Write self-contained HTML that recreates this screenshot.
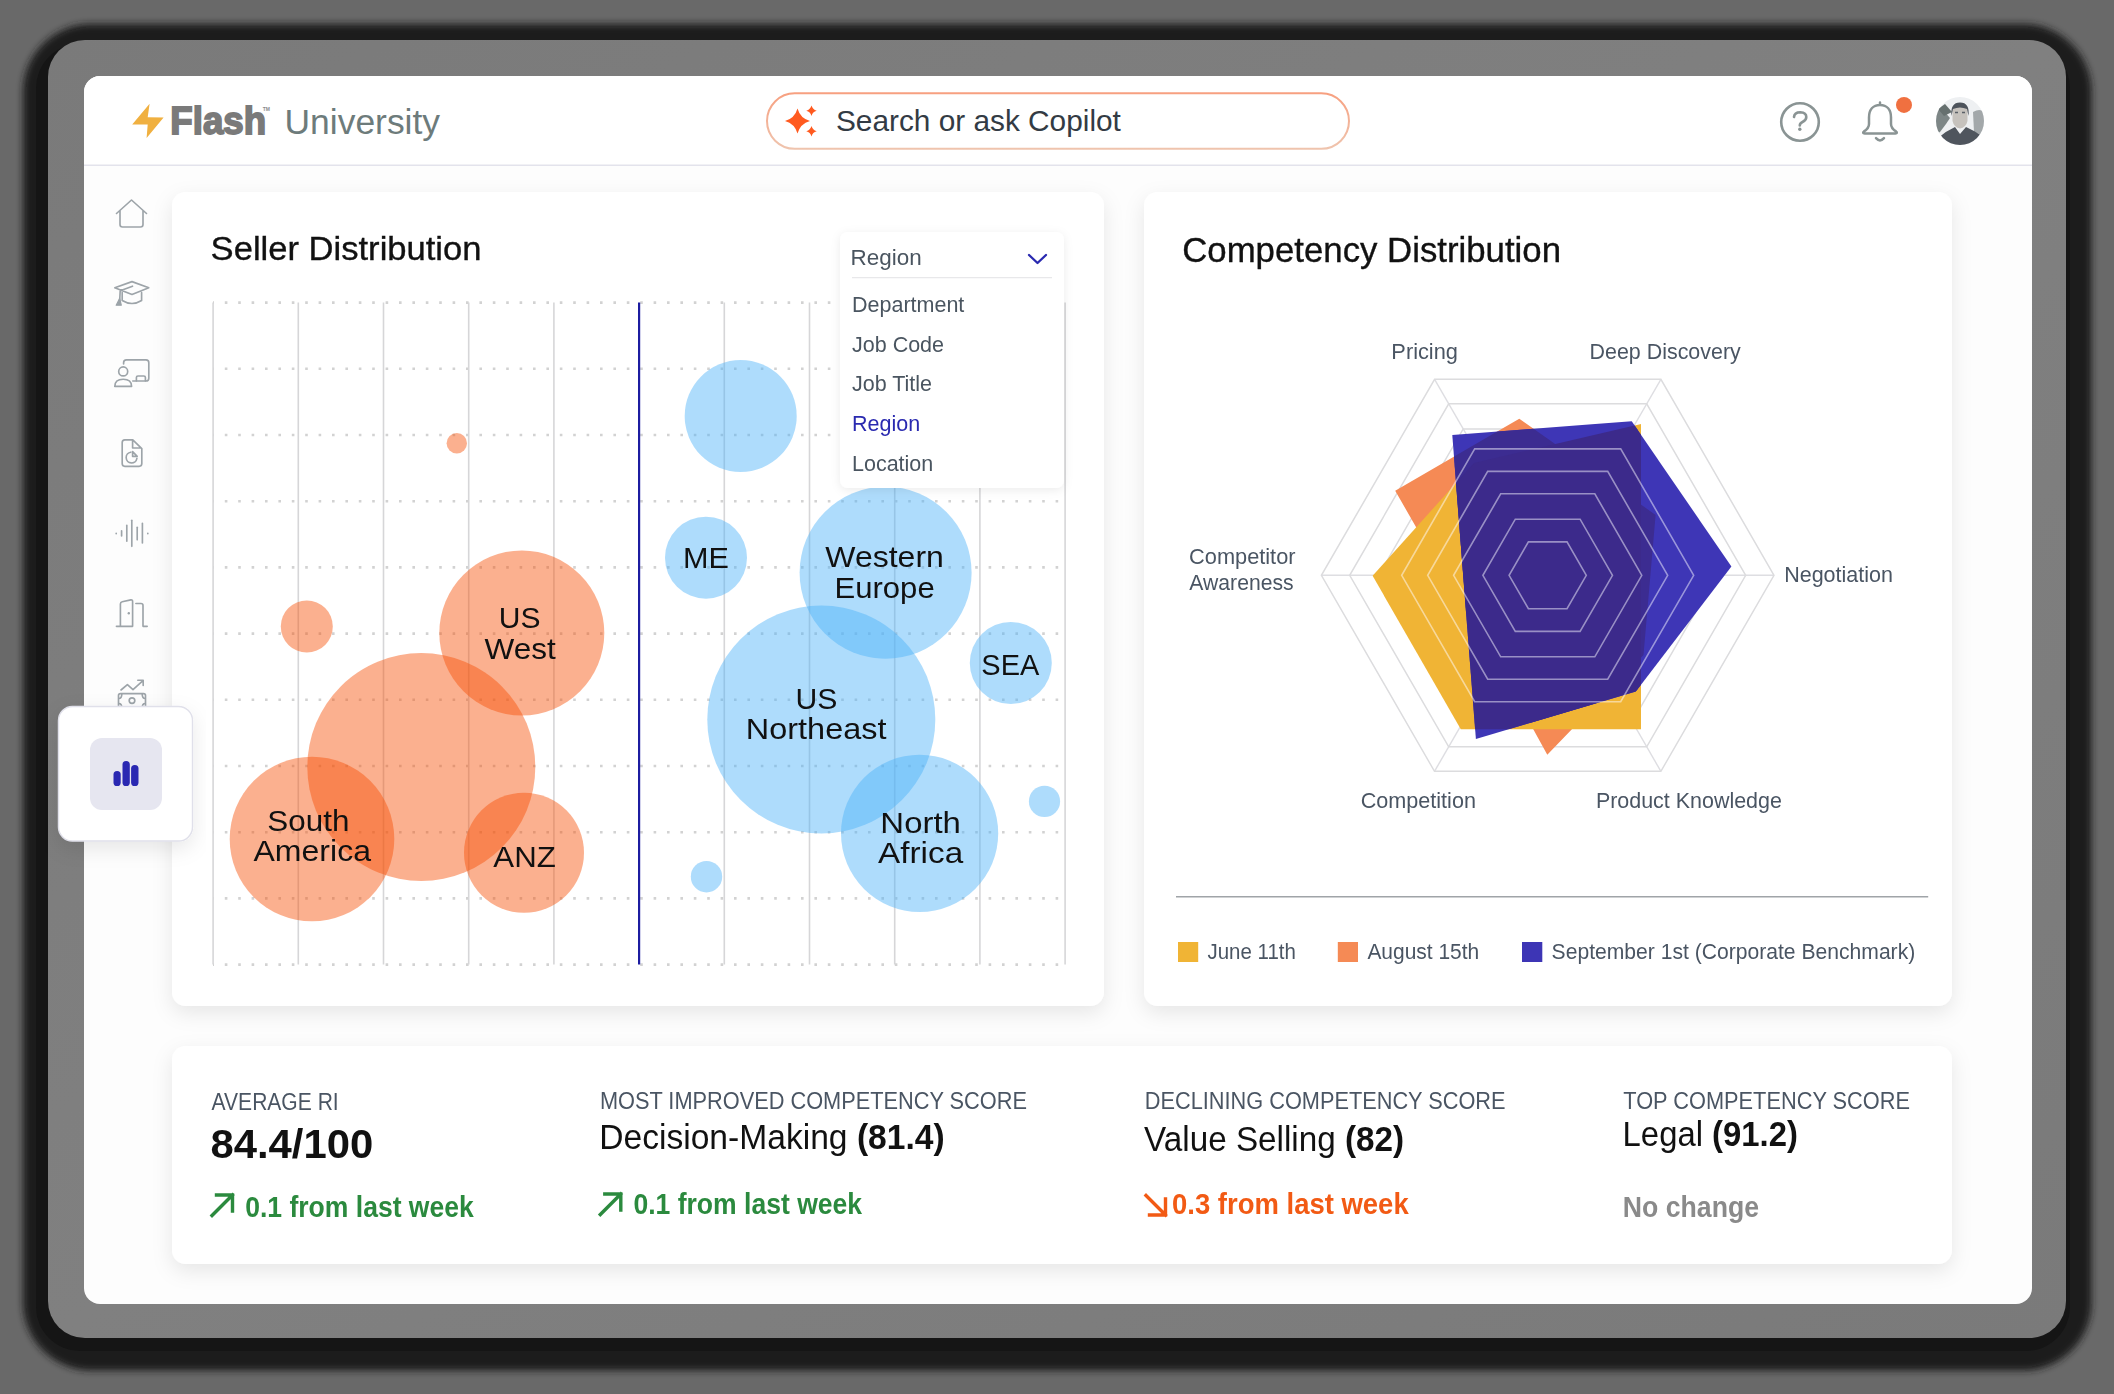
<!DOCTYPE html>
<html><head><meta charset="utf-8"><title>Flash University</title>
<style>html,body{margin:0;padding:0;width:2114px;height:1394px;overflow:hidden;background:#696969}svg{display:block}text{font-family:"Liberation Sans", sans-serif}</style>
</head><body>
<svg width="2114" height="1394" viewBox="0 0 2114 1394">
<defs>
<filter id="blur3" x="-5%" y="-5%" width="110%" height="110%"><feGaussianBlur stdDeviation="3.6"/></filter>
<filter id="shadow" x="-10%" y="-10%" width="120%" height="130%"><feDropShadow dx="0" dy="7" stdDeviation="10" flood-color="#000" flood-opacity="0.09"/></filter>
<filter id="shadow2" x="-20%" y="-20%" width="140%" height="140%"><feDropShadow dx="0" dy="2" stdDeviation="5" flood-color="#000" flood-opacity="0.08"/></filter>
<linearGradient id="bezel" x1="0" y1="0" x2="1" y2="1"><stop offset="0" stop-color="#7a7a7a"/><stop offset="0.5" stop-color="#808080"/><stop offset="1" stop-color="#7a7a7a"/></linearGradient>
<clipPath id="screen"><rect x="84" y="76" width="1948" height="1228" rx="16"/></clipPath>
</defs>
<rect x="0" y="0" width="2114" height="1394" fill="#696969"/>
<rect x="23" y="24" width="2068.5" height="1346.5" rx="68" fill="#1f1f1f" filter="url(#blur3)"/>
<rect x="36" y="44" width="2034" height="1307" rx="44" fill="#151515"/>
<rect x="48" y="40" width="2018" height="1298" rx="37" fill="url(#bezel)"/>
<rect x="84" y="76" width="1948" height="1228" rx="16" fill="#fdfdfd"/>
<g clip-path="url(#screen)">
<rect x="84" y="76" width="1948" height="89" fill="#fff"/>
<line x1="84" y1="165.2" x2="2032" y2="165.2" stroke="#e3e3ec" stroke-width="1.6"/>
<polygon points="149.6,103.7 147.7,117.3 163.6,117.5 146.6,138 147.7,124.5 132.2,124.5" fill="#f0b040"/>
<text x="170.31" y="134" font-size="38.5" fill="#7a7a7a" font-weight="bold" text-anchor="start" textLength="95.85" lengthAdjust="spacingAndGlyphs" stroke="#7a7a7a" stroke-width="1.8">Flash</text>
<text x="262.8" y="111.4" font-size="5" fill="#8a8a8a" font-weight="bold" text-anchor="start" >TM</text>
<text x="284.51" y="134" font-size="35.5" fill="#6d7b7b" font-weight="normal" text-anchor="start" textLength="155.55" lengthAdjust="spacingAndGlyphs" >University</text>
<defs><linearGradient id="sb" x1="0" y1="0" x2="0" y2="1"><stop offset="0" stop-color="#f7a080"/><stop offset="1" stop-color="#efc4ae"/></linearGradient></defs>
<rect x="767" y="93.3" width="582" height="55.5" rx="27.75" fill="#fff" stroke="url(#sb)" stroke-width="2"/>
<path d="M797.5,108.5 Q800.25,118.25 810.0,121 Q800.25,123.75 797.5,133.5 Q794.75,123.75 785.0,121 Q794.75,118.25 797.5,108.5Z" fill="#ff5a1f"/>
<path d="M811.5,105.6 Q812.644,109.65599999999999 816.7,110.8 Q812.644,111.944 811.5,116.0 Q810.356,111.944 806.3,110.8 Q810.356,109.65599999999999 811.5,105.6Z" fill="#ff5a1f"/>
<path d="M811.5,125.99999999999999 Q812.644,130.05599999999998 816.7,131.2 Q812.644,132.344 811.5,136.39999999999998 Q810.356,132.344 806.3,131.2 Q810.356,130.05599999999998 811.5,125.99999999999999Z" fill="#ff5a1f"/>
<text x="835.93" y="131.3" font-size="29.5" fill="#333b44" font-weight="normal" text-anchor="start" textLength="284.95" lengthAdjust="spacingAndGlyphs" >Search or ask Copilot</text>
<circle cx="1800" cy="122" r="18.8" fill="none" stroke="#8a9494" stroke-width="2.6"/>
<path d="M1794,117 Q1794.5,112.2 1800.3,112.2 Q1806.3,112.4 1806.3,117 Q1806.3,120.3 1802.5,122 Q1799.8,123.3 1799.8,125.5" fill="none" stroke="#8a9494" stroke-width="2.6" stroke-linecap="round"/>
<circle cx="1799.8" cy="129.3" r="1.7" fill="#8a9494"/>
<path d="M1880,102.6 L1880,105 M1880,105 C1873,105 1869,110 1869,117.5 L1869,124 C1869,127.5 1866.5,129.8 1864,131.4 C1862.6,132.4 1863,133.4 1864.6,133.4 L1895.4,133.4 C1897,133.4 1897.4,132.4 1896,131.4 C1893.5,129.8 1891,127.5 1891,124 L1891,117.5 C1891,110 1887,105 1880,105 Z" fill="none" stroke="#8a9494" stroke-width="2.5" stroke-linejoin="round" stroke-linecap="round"/>
<path d="M1876,138.2 Q1880,142.6 1884,138.2" fill="none" stroke="#8a9494" stroke-width="2.5" stroke-linecap="round"/>
<circle cx="1904" cy="104.9" r="8" fill="#f07040"/>
<defs><clipPath id="av"><circle cx="1960" cy="121" r="24"/></clipPath></defs>
<g clip-path="url(#av)"><rect x="1936" y="97" width="48" height="48" fill="#eef0f2"/><path d="M1936,106 L1943,110 L1950,118 L1946,124 L1940,132 L1936,134Z" fill="#7d8686"/><path d="M1938,109 L1945,104 L1952,112 L1944,116Z" fill="#66706f"/><path d="M1973,112 Q1980,108 1984,112 L1984,136 L1974,132Z" fill="#a3a8aa"/><path d="M1952.5,110 Q1952.5,104.5 1960,104.5 Q1967.5,104.5 1967.5,110 L1967.5,121 Q1966,127.5 1960,128.5 Q1954,127.5 1952.5,121Z" fill="#c6c2bd"/><path d="M1951.5,116 Q1950,102.5 1960,102.5 Q1970,102.5 1968.5,116 L1967,109 Q1960,106 1953,109Z" fill="#4d535b"/><path d="M1955,112.5 L1958,112.5 M1962,112.5 L1965,112.5" stroke="#5a6068" stroke-width="1.4"/><path d="M1936,145 L1938,138 Q1946,131 1955,127 L1960,134 L1966,127 Q1975,131 1982,136 L1984,145Z" fill="#4f555d"/></g>
<path d="M116.5,213.5 L131.5,200 L146.5,213.5 M120,210.5 L120,224.5 Q120,227 122.5,227 L140.5,227 Q143,227 143,224.5 L143,210.5" fill="none" stroke="#9da4a9" stroke-width="1.65" stroke-linecap="round" stroke-linejoin="round"/>
<path d="M114.8,287.7 L132,281.6 L148.8,287.7 L132,294.4 Z M122.2,292.5 L122.2,300.5 Q132,306.5 141.6,300.5 L141.6,292.5 M132.5,286.2 L120.2,290.8 L119.6,302" fill="none" stroke="#9da4a9" stroke-width="1.65" stroke-linecap="round" stroke-linejoin="round"/>
<path d="M116.2,305.2 L119.6,298.5 L121.3,305.2 Z" fill="#9ba3a8" stroke="#9ba3a8" stroke-width="1.2" stroke-linejoin="round"/>
<path d="M123.6,364 L123.6,362.8 Q123.6,359.9 126.5,359.9 L146,359.9 Q148.8,359.9 148.8,362.8 L148.8,378.2 Q148.8,381 146,381 L132.8,381" fill="none" stroke="#9da4a9" stroke-width="1.65" stroke-linecap="round" stroke-linejoin="round"/>
<circle cx="123.2" cy="371.4" r="4.5" fill="none" stroke="#9da4a9" stroke-width="1.65" stroke-linecap="round" stroke-linejoin="round"/>
<path d="M114.8,386.4 Q114.8,379.2 123.2,379.2 Q131.6,379.2 131.6,386.4 Z M136.4,381 L136.4,377.6 Q136.4,376 138,376 L143.8,376 Q145.4,376 145.4,377.6 L145.4,381" fill="none" stroke="#9da4a9" stroke-width="1.65" stroke-linecap="round" stroke-linejoin="round"/>
<path d="M124.8,439.8 L132.8,439.8 L141.8,448.6 L141.8,463.6 Q141.8,466.3 139.1,466.3 L124.8,466.3 Q122.2,466.3 122.2,463.6 L122.2,442.5 Q122.2,439.8 124.8,439.8 Z M132.6,440.2 L132.6,448 L141.4,448" fill="none" stroke="#9da4a9" stroke-width="1.65" stroke-linecap="round" stroke-linejoin="round"/>
<path d="M130.8,452.2 A5.4,5.4 0 1 0 136.9,458.4" fill="none" stroke="#9da4a9" stroke-width="1.65" stroke-linecap="round" stroke-linejoin="round"/>
<path d="M132.6,451.6 L137.2,456.4 L132.6,456.4 Z" fill="none" stroke="#9da4a9" stroke-width="1.65" stroke-linecap="round" stroke-linejoin="round"/>
<line x1="116.2" y1="533.3" x2="116.2" y2="533.7" fill="none" stroke="#9da4a9" stroke-width="1.65" stroke-linecap="round" stroke-linejoin="round"/>
<line x1="121.6" y1="530.8" x2="121.6" y2="536" fill="none" stroke="#9da4a9" stroke-width="1.65" stroke-linecap="round" stroke-linejoin="round"/>
<line x1="126.8" y1="525.4" x2="126.8" y2="541.2" fill="none" stroke="#9da4a9" stroke-width="1.65" stroke-linecap="round" stroke-linejoin="round"/>
<line x1="131.8" y1="520.2" x2="131.8" y2="546.3" fill="none" stroke="#9da4a9" stroke-width="1.65" stroke-linecap="round" stroke-linejoin="round"/>
<line x1="137.2" y1="527.2" x2="137.2" y2="539.8" fill="none" stroke="#9da4a9" stroke-width="1.65" stroke-linecap="round" stroke-linejoin="round"/>
<line x1="142.4" y1="523.4" x2="142.4" y2="543" fill="none" stroke="#9da4a9" stroke-width="1.65" stroke-linecap="round" stroke-linejoin="round"/>
<line x1="147.8" y1="533.3" x2="147.8" y2="533.7" fill="none" stroke="#9da4a9" stroke-width="1.65" stroke-linecap="round" stroke-linejoin="round"/>
<path d="M116.4,626.3 L132.6,626.3 L132.6,601.4 Q132.6,599.6 130.8,599.9 L122.2,601.8 Q120.4,602.2 120.4,604 L120.4,626.3 M135.9,603.5 L141,603.5 Q143,603.5 143,605.5 L143,626.3 L147.2,626.3" fill="none" stroke="#9da4a9" stroke-width="1.65" stroke-linecap="round" stroke-linejoin="round"/>
<circle cx="128.8" cy="613.3" r="1.2" fill="#9ba3a8"/>
<path d="M121,690 L127.4,684.6 L133,689.6 L143,680.6 M137.8,680.2 L143.2,680.2 L143.2,685.4 M120.5,693.6 L143.5,693.6 Q145.5,693.6 145.5,695.6 L145.5,712 L118.5,712 L118.5,695.6 Q118.5,693.6 120.5,693.6 Z" fill="none" stroke="#9da4a9" stroke-width="1.65" stroke-linecap="round" stroke-linejoin="round"/>
<circle cx="132" cy="700.6" r="2.8" fill="none" stroke="#9da4a9" stroke-width="1.65" stroke-linecap="round" stroke-linejoin="round"/>
<path d="M118.8,698.5 Q121.8,698.5 121.8,694 M145.2,698.5 Q142.2,698.5 142.2,694 M118.8,703.5 Q121.8,703.5 121.8,708 M145.2,703.5 Q142.2,703.5 142.2,708" fill="none" stroke="#9da4a9" stroke-width="1.65" stroke-linecap="round" stroke-linejoin="round"/>
<rect x="172" y="192" width="932" height="814" rx="14" fill="#fff" filter="url(#shadow)"/>
<rect x="1144" y="192" width="808" height="814" rx="14" fill="#fff" filter="url(#shadow)"/>
<rect x="172" y="1046" width="1780" height="218" rx="14" fill="#fff" filter="url(#shadow)"/>
<text x="210.64" y="260" font-size="33.7" fill="#111" font-weight="normal" text-anchor="start" textLength="270.87" lengthAdjust="spacingAndGlyphs" stroke="#111" stroke-width="0.35">Seller Distribution</text>
<line x1="213" y1="302.6" x2="1066" y2="302.6" stroke="#d2d2d2" stroke-width="2.6" stroke-dasharray="2.6 10.8" stroke-dashoffset="-11.8"/>
<line x1="213" y1="368.8" x2="1066" y2="368.8" stroke="#d2d2d2" stroke-width="2.6" stroke-dasharray="2.6 10.8" stroke-dashoffset="-11.8"/>
<line x1="213" y1="435.0" x2="1066" y2="435.0" stroke="#d2d2d2" stroke-width="2.6" stroke-dasharray="2.6 10.8" stroke-dashoffset="-11.8"/>
<line x1="213" y1="501.2" x2="1066" y2="501.2" stroke="#d2d2d2" stroke-width="2.6" stroke-dasharray="2.6 10.8" stroke-dashoffset="-11.8"/>
<line x1="213" y1="567.4" x2="1066" y2="567.4" stroke="#d2d2d2" stroke-width="2.6" stroke-dasharray="2.6 10.8" stroke-dashoffset="-11.8"/>
<line x1="213" y1="633.6" x2="1066" y2="633.6" stroke="#d2d2d2" stroke-width="2.6" stroke-dasharray="2.6 10.8" stroke-dashoffset="-11.8"/>
<line x1="213" y1="699.8" x2="1066" y2="699.8" stroke="#d2d2d2" stroke-width="2.6" stroke-dasharray="2.6 10.8" stroke-dashoffset="-11.8"/>
<line x1="213" y1="766.0" x2="1066" y2="766.0" stroke="#d2d2d2" stroke-width="2.6" stroke-dasharray="2.6 10.8" stroke-dashoffset="-11.8"/>
<line x1="213" y1="832.2" x2="1066" y2="832.2" stroke="#d2d2d2" stroke-width="2.6" stroke-dasharray="2.6 10.8" stroke-dashoffset="-11.8"/>
<line x1="213" y1="898.4" x2="1066" y2="898.4" stroke="#d2d2d2" stroke-width="2.6" stroke-dasharray="2.6 10.8" stroke-dashoffset="-11.8"/>
<line x1="213" y1="964.6" x2="1066" y2="964.6" stroke="#d2d2d2" stroke-width="2.6" stroke-dasharray="2.6 10.8" stroke-dashoffset="-11.8"/>
<line x1="213.1" y1="302.6" x2="213.1" y2="964.6" stroke="#d6d6d8" stroke-width="1.6"/>
<line x1="298.3" y1="302.6" x2="298.3" y2="964.6" stroke="#d6d6d8" stroke-width="1.6"/>
<line x1="383.5" y1="302.6" x2="383.5" y2="964.6" stroke="#d6d6d8" stroke-width="1.6"/>
<line x1="468.7" y1="302.6" x2="468.7" y2="964.6" stroke="#d6d6d8" stroke-width="1.6"/>
<line x1="553.9" y1="302.6" x2="553.9" y2="964.6" stroke="#d6d6d8" stroke-width="1.6"/>
<line x1="639.1" y1="302.6" x2="639.1" y2="964.6" stroke="#1c1ca0" stroke-width="2.2"/>
<line x1="724.3" y1="302.6" x2="724.3" y2="964.6" stroke="#d6d6d8" stroke-width="1.6"/>
<line x1="809.5" y1="302.6" x2="809.5" y2="964.6" stroke="#d6d6d8" stroke-width="1.6"/>
<line x1="894.7" y1="302.6" x2="894.7" y2="964.6" stroke="#d6d6d8" stroke-width="1.6"/>
<line x1="979.9" y1="302.6" x2="979.9" y2="964.6" stroke="#d6d6d8" stroke-width="1.6"/>
<line x1="1065.1" y1="302.6" x2="1065.1" y2="964.6" stroke="#d6d6d8" stroke-width="1.6"/>
<circle cx="456.8" cy="443.2" r="10.2" fill="#f64f06" fill-opacity="0.45"/>
<circle cx="306.8" cy="626.5" r="26" fill="#f64f06" fill-opacity="0.45"/>
<circle cx="521.8" cy="633" r="82.5" fill="#f64f06" fill-opacity="0.45"/>
<circle cx="421.3" cy="767" r="114" fill="#f64f06" fill-opacity="0.45"/>
<circle cx="312" cy="839" r="82.3" fill="#f64f06" fill-opacity="0.45"/>
<circle cx="524" cy="852.8" r="60" fill="#f64f06" fill-opacity="0.45"/>
<circle cx="740.7" cy="416" r="56" fill="#4bb1f8" fill-opacity="0.45"/>
<circle cx="706" cy="557.7" r="41" fill="#4bb1f8" fill-opacity="0.45"/>
<circle cx="885.6" cy="572.7" r="86" fill="#4bb1f8" fill-opacity="0.45"/>
<circle cx="821.3" cy="719.5" r="114" fill="#4bb1f8" fill-opacity="0.45"/>
<circle cx="1010.8" cy="663" r="41" fill="#4bb1f8" fill-opacity="0.45"/>
<circle cx="919.6" cy="833.3" r="78.6" fill="#4bb1f8" fill-opacity="0.45"/>
<circle cx="1044.5" cy="801.4" r="15.6" fill="#4bb1f8" fill-opacity="0.45"/>
<circle cx="706.5" cy="876.7" r="15.7" fill="#4bb1f8" fill-opacity="0.45"/>
<text x="498.77" y="627.5" font-size="29" fill="#111" font-weight="normal" text-anchor="start" textLength="41.7" lengthAdjust="spacingAndGlyphs" >US</text>
<text x="484.57" y="658.5" font-size="29" fill="#111" font-weight="normal" text-anchor="start" textLength="71.3" lengthAdjust="spacingAndGlyphs" >West</text>
<text x="267.37" y="830.8" font-size="29" fill="#111" font-weight="normal" text-anchor="start" textLength="82.0" lengthAdjust="spacingAndGlyphs" >South</text>
<text x="253.47" y="860.9" font-size="29" fill="#111" font-weight="normal" text-anchor="start" textLength="117.5" lengthAdjust="spacingAndGlyphs" >America</text>
<text x="493.37" y="867.3" font-size="29" fill="#111" font-weight="normal" text-anchor="start" textLength="62.5" lengthAdjust="spacingAndGlyphs" >ANZ</text>
<text x="682.97" y="568.2" font-size="29" fill="#111" font-weight="normal" text-anchor="start" textLength="45.9" lengthAdjust="spacingAndGlyphs" >ME</text>
<text x="825.27" y="567.3" font-size="29" fill="#111" font-weight="normal" text-anchor="start" textLength="118.6" lengthAdjust="spacingAndGlyphs" >Western</text>
<text x="834.47" y="598" font-size="29" fill="#111" font-weight="normal" text-anchor="start" textLength="100.2" lengthAdjust="spacingAndGlyphs" >Europe</text>
<text x="981.37" y="675.2" font-size="29" fill="#111" font-weight="normal" text-anchor="start" textLength="58.0" lengthAdjust="spacingAndGlyphs" >SEA</text>
<text x="795.47" y="708.7" font-size="29" fill="#111" font-weight="normal" text-anchor="start" textLength="41.9" lengthAdjust="spacingAndGlyphs" >US</text>
<text x="745.87" y="739.4" font-size="29" fill="#111" font-weight="normal" text-anchor="start" textLength="140.6" lengthAdjust="spacingAndGlyphs" >Northeast</text>
<text x="880.37" y="832.7" font-size="29" fill="#111" font-weight="normal" text-anchor="start" textLength="80.5" lengthAdjust="spacingAndGlyphs" >North</text>
<text x="878.07" y="862.5" font-size="29" fill="#111" font-weight="normal" text-anchor="start" textLength="85.1" lengthAdjust="spacingAndGlyphs" >Africa</text>
<rect x="840" y="232" width="224" height="256" rx="8" fill="#fff" filter="url(#shadow2)"/>
<text x="850.5" y="265.2" font-size="21.5" fill="#4a5560" font-weight="normal" text-anchor="start" textLength="71.15" lengthAdjust="spacingAndGlyphs" >Region</text>
<path d="M1029,255 L1037.5,263 L1046,255" fill="none" stroke="#2a2ab0" stroke-width="2.4" stroke-linecap="round" stroke-linejoin="round"/>
<line x1="852" y1="277.6" x2="1052" y2="277.6" stroke="#e8e8ea" stroke-width="1.4"/>
<text x="852" y="312" font-size="21.5" fill="#4a5560" font-weight="normal" text-anchor="start" >Department</text>
<text x="852" y="351.5" font-size="21.5" fill="#4a5560" font-weight="normal" text-anchor="start" >Job Code</text>
<text x="852" y="391" font-size="21.5" fill="#4a5560" font-weight="normal" text-anchor="start" >Job Title</text>
<text x="852" y="430.9" font-size="21.5" fill="#2a2ab0" font-weight="normal" text-anchor="start" >Region</text>
<text x="852" y="470.6" font-size="21.5" fill="#4a5560" font-weight="normal" text-anchor="start" >Location</text>
<text x="1182.2" y="262.2" font-size="34.3" fill="#111" font-weight="normal" text-anchor="start" textLength="378.83" lengthAdjust="spacingAndGlyphs" stroke="#111" stroke-width="0.35">Competency Distribution</text>
<line x1="1547.7" y1="575.3" x2="1774.0" y2="575.3" stroke="#dedee2" stroke-width="1.4"/>
<line x1="1547.7" y1="575.3" x2="1660.9" y2="379.3" stroke="#dedee2" stroke-width="1.4"/>
<line x1="1547.7" y1="575.3" x2="1434.6" y2="379.3" stroke="#dedee2" stroke-width="1.4"/>
<line x1="1547.7" y1="575.3" x2="1321.4" y2="575.3" stroke="#dedee2" stroke-width="1.4"/>
<line x1="1547.7" y1="575.3" x2="1434.5" y2="771.3" stroke="#dedee2" stroke-width="1.4"/>
<line x1="1547.7" y1="575.3" x2="1660.9" y2="771.3" stroke="#dedee2" stroke-width="1.4"/>
<polygon points="1716.7,575.3 1632.2,428.9 1463.2,428.9 1378.7,575.3 1463.2,721.7 1632.2,721.7" fill="none" stroke="#dcdcde" stroke-width="1.5"/>
<polygon points="1745.7,575.3 1646.7,403.8 1448.7,403.8 1349.7,575.3 1448.7,746.8 1646.7,746.8" fill="none" stroke="#dcdcde" stroke-width="1.5"/>
<polygon points="1774.0,575.3 1660.9,379.3 1434.6,379.3 1321.4,575.3 1434.5,771.3 1660.9,771.3" fill="none" stroke="#dcdcde" stroke-width="1.5"/>
<polygon points="1395.2,490.7 1519.3,418.7 1655.6,515 1643.5,655 1547.3,754.7 1510.6,688 1439.5,568" fill="#f58a55"/>
<polygon points="1372.6,575.8 1474,463 1641,424 1641,729.2 1460.8,729.2" fill="#f0b435"/>
<polygon points="1452.3,434.9 1631.7,421.2 1731.4,566.4 1635.8,691.6 1475.9,739" fill="#3e36b6"/>
<defs><clipPath id="bclip"><polygon points="1452.3,434.9 1631.7,421.2 1731.4,566.4 1635.8,691.6 1475.9,739"/></clipPath></defs>
<g clip-path="url(#bclip)"><polygon points="1395.2,490.7 1519.3,418.7 1655.6,515 1643.5,655 1547.3,754.7 1510.6,688 1439.5,568" fill="#3c2c91"/><polygon points="1372.6,575.8 1474,463 1641,424 1641,729.2 1460.8,729.2" fill="#3c2a8b"/></g>
<g style="mix-blend-mode:screen">
<polygon points="1586.3,575.3 1567.0,541.9 1528.4,541.9 1509.1,575.3 1528.4,608.7 1567.0,608.7" fill="none" stroke="rgb(122,122,128)" stroke-width="1.6"/>
<polygon points="1612.5,575.3 1580.1,519.2 1515.3,519.2 1482.9,575.3 1515.3,631.4 1580.1,631.4" fill="none" stroke="rgb(122,122,128)" stroke-width="1.6"/>
<polygon points="1641.8,575.3 1594.8,493.8 1500.7,493.8 1453.6,575.3 1500.7,656.8 1594.8,656.8" fill="none" stroke="rgb(122,122,128)" stroke-width="1.6"/>
<polygon points="1667.7,575.3 1607.7,471.4 1487.7,471.4 1427.7,575.3 1487.7,679.2 1607.7,679.2" fill="none" stroke="rgb(122,122,128)" stroke-width="1.6"/>
<polygon points="1693.7,575.3 1620.7,448.9 1474.7,448.9 1401.7,575.3 1474.7,701.7 1620.7,701.7" fill="none" stroke="rgb(122,122,128)" stroke-width="1.6"/>
</g>
<text x="1391.39" y="358.8" font-size="21.5" fill="#4a5563" font-weight="normal" text-anchor="start" textLength="66.55" lengthAdjust="spacingAndGlyphs" >Pricing</text>
<text x="1589.59" y="358.8" font-size="21.5" fill="#4a5563" font-weight="normal" text-anchor="start" textLength="151.15" lengthAdjust="spacingAndGlyphs" >Deep Discovery</text>
<text x="1189.09" y="563.9" font-size="21.5" fill="#4a5563" font-weight="normal" text-anchor="start" textLength="106.45" lengthAdjust="spacingAndGlyphs" >Competitor</text>
<text x="1189.29" y="589.9" font-size="21.5" fill="#4a5563" font-weight="normal" text-anchor="start" textLength="104.35" lengthAdjust="spacingAndGlyphs" >Awareness</text>
<text x="1784.19" y="582" font-size="21.5" fill="#4a5563" font-weight="normal" text-anchor="start" textLength="108.75" lengthAdjust="spacingAndGlyphs" >Negotiation</text>
<text x="1360.69" y="808.3" font-size="21.5" fill="#4a5563" font-weight="normal" text-anchor="start" textLength="115.25" lengthAdjust="spacingAndGlyphs" >Competition</text>
<text x="1595.89" y="808.3" font-size="21.5" fill="#4a5563" font-weight="normal" text-anchor="start" textLength="186.05" lengthAdjust="spacingAndGlyphs" >Product Knowledge</text>
<line x1="1176" y1="896.8" x2="1928.2" y2="896.8" stroke="#a0a4a8" stroke-width="1.6"/>
<rect x="1178" y="942" width="20.2" height="20" fill="#f0b435"/>
<rect x="1337.8" y="942" width="20.2" height="20" fill="#f58a55"/>
<rect x="1522" y="942" width="20.3" height="20" fill="#3d35b5"/>
<text x="1207.49" y="959.2" font-size="21.5" fill="#4a5563" font-weight="normal" text-anchor="start" textLength="88.35" lengthAdjust="spacingAndGlyphs" >June 11th</text>
<text x="1367.39" y="959.2" font-size="21.5" fill="#4a5563" font-weight="normal" text-anchor="start" textLength="111.85" lengthAdjust="spacingAndGlyphs" >August 15th</text>
<text x="1551.59" y="959.2" font-size="21.5" fill="#4a5563" font-weight="normal" text-anchor="start" textLength="363.65" lengthAdjust="spacingAndGlyphs" >September 1st (Corporate Benchmark)</text>
<text x="211.59" y="1110" font-size="23" fill="#4a5563" font-weight="normal" text-anchor="start" textLength="127.1" lengthAdjust="spacingAndGlyphs" >AVERAGE RI</text>
<text x="210.4" y="1157.7" font-size="40" fill="#111" font-weight="bold" text-anchor="start" textLength="162.8" lengthAdjust="spacingAndGlyphs" >84.4/100</text>
<path d="M212,1215.5 L232.5,1195 M216.5,1195 L232.5,1195 L232.5,1211" fill="none" stroke="#2b8a3e" stroke-width="3.4" stroke-linecap="square"/>
<text x="245.21" y="1216.5" font-size="29.8" fill="#2b8a3e" font-weight="bold" text-anchor="start" textLength="228.58" lengthAdjust="spacingAndGlyphs" >0.1 from last week</text>
<text x="599.89" y="1108.8" font-size="23" fill="#4a5563" font-weight="normal" text-anchor="start" textLength="427.1" lengthAdjust="spacingAndGlyphs" >MOST IMPROVED COMPETENCY SCORE</text>
<text x="599.2" y="1149.2" font-size="35.5" fill="#111" textLength="345.5" lengthAdjust="spacingAndGlyphs">Decision-Making <tspan font-weight="bold">(81.4)</tspan></text>
<path d="M600.3,1214.5 L620.8,1194 M604.8,1194 L620.8,1194 L620.8,1210" fill="none" stroke="#2b8a3e" stroke-width="3.4" stroke-linecap="square"/>
<text x="633.41" y="1214.3" font-size="29.8" fill="#2b8a3e" font-weight="bold" text-anchor="start" textLength="228.68" lengthAdjust="spacingAndGlyphs" >0.1 from last week</text>
<text x="1144.79" y="1108.8" font-size="23" fill="#4a5563" font-weight="normal" text-anchor="start" textLength="360.8" lengthAdjust="spacingAndGlyphs" >DECLINING COMPETENCY SCORE</text>
<text x="1144.1" y="1150.5" font-size="35.5" fill="#111" textLength="260" lengthAdjust="spacingAndGlyphs">Value Selling <tspan font-weight="bold">(82)</tspan></text>
<path d="M1146,1195.5 L1165.5,1215 M1149.5,1215 L1165.5,1215 L1165.5,1199" fill="none" stroke="#f25a14" stroke-width="3.4" stroke-linecap="square"/>
<text x="1172.01" y="1214.3" font-size="29.8" fill="#f25a14" font-weight="bold" text-anchor="start" textLength="236.68" lengthAdjust="spacingAndGlyphs" >0.3 from last week</text>
<text x="1623.29" y="1108.8" font-size="23" fill="#4a5563" font-weight="normal" text-anchor="start" textLength="286.7" lengthAdjust="spacingAndGlyphs" >TOP COMPETENCY SCORE</text>
<text x="1622.6" y="1145.8" font-size="35.5" fill="#111" textLength="175.3" lengthAdjust="spacingAndGlyphs">Legal <tspan font-weight="bold">(91.2)</tspan></text>
<text x="1622.81" y="1216.5" font-size="29.8" fill="#8a8a8a" font-weight="bold" text-anchor="start" textLength="136.28" lengthAdjust="spacingAndGlyphs" >No change</text>
</g>
<rect x="58.5" y="706.5" width="134" height="134.5" rx="14" fill="#fff" stroke="#e0e0ea" stroke-width="1.4" filter="url(#shadow)"/>
<rect x="90" y="738" width="72" height="72" rx="12" fill="#e6e6f0"/>
<rect x="113.5" y="771" width="7.2" height="15" rx="3.6" fill="#2a28b2"/>
<rect x="122.5" y="761" width="7.3" height="25" rx="3.6" fill="#2a28b2"/>
<rect x="131.1" y="765" width="7.4" height="21" rx="3.6" fill="#2a28b2"/>
</svg>
</body></html>
